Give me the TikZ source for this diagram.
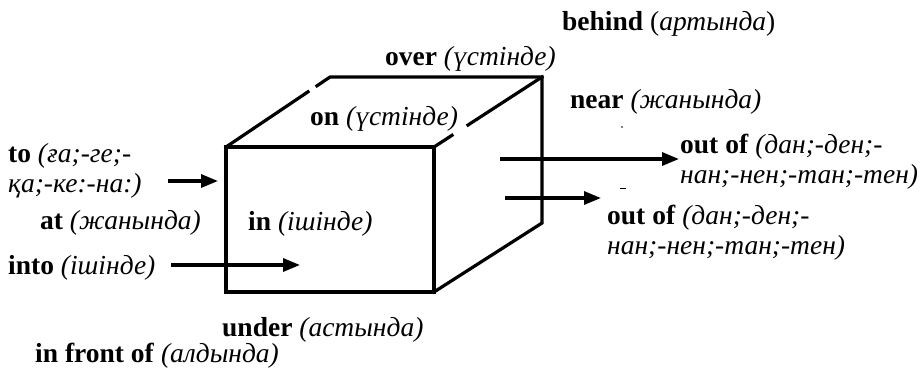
\documentclass[tikz,border=0pt]{standalone}
\usepackage{fontspec}
\setmainfont{Liberation Serif}
\usetikzlibrary{arrows.meta}
\begin{document}
\begin{tikzpicture}[x=1pt,y=-1pt,
  edge/.style={line width=3.2pt,line join=miter,line cap=rect},
  arr/.style={line width=3.2pt,-{Triangle[length=17pt,width=13pt]}},
  lbl/.style={inner sep=0pt,anchor=west,font=\fontsize{27.5}{30}\selectfont,align=left}]
\useasboundingbox (0,0) rectangle (924,368);
% cube
\draw[edge] (226,147) rectangle (434,292);
\draw[edge] (226,147) -- (308,91.8);
\draw[edge] (317,85.8) -- (330,77) -- (542,77) -- (542,223) -- (434,292);
\draw[edge] (434,147) -- (452,135.3);
\draw[edge] (468,125) -- (542,77);
% labels
\node[lbl] (behind) at (562,24) {\textbf{behind} (\textit{артында})};
\node[lbl] (over) at (385,59) {\textbf{over} \textit{(үстінде)}};
\node[lbl] (on) at (310,119) {\textbf{on} \textit{(үстінде)}};
\node[lbl] (near) at (570,102) {\textbf{near} \textit{(жанында)}};
\node[lbl] (out1) at (680,162) {\textbf{out of} \textit{(дан;-ден;-}\\\textit{нан;-нен;-тан;-тен)}};
\node[lbl] (out2) at (607,233) {\textbf{out of} \textit{(дан;-ден;-}\\\textit{нан;-нен;-тан;-тен)}};
\node[lbl] (to) at (8,171) {\textbf{to} \textit{(ға;-ге;-}\\\textit{қа;-ке:-на:)}};
\node[lbl] (at) at (40,223) {\textbf{at} \textit{(жанында)}};
\node[lbl] (in) at (248,224) {\textbf{in} \textit{(ішінде)}};
\node[lbl] (into) at (8,268) {\textbf{into} \textit{(ішінде)}};
\node[lbl] (under) at (222,330) {\textbf{under} \textit{(астында)}};
\node[lbl] (front) at (35,356) {\textbf{in front of} \textit{(алдында)}};
% arrows
\coordinate (toS) at (168,181);
\coordinate (toE) at (218,181);
\coordinate (intoS) at (171,265);
\coordinate (intoE) at (300,265);
\coordinate (o1S) at (500,159);
\coordinate (o1E) at (679,159);
\coordinate (o2S) at (505,198);
\coordinate (o2E) at (601,198);
\draw[arr] (toS) -- (toE);
\draw[arr] (intoS) -- (intoE);
\draw[arr] (o1S) -- (o1E);
\draw[arr] (o2S) -- (o2E);
% stray marks
\fill (622,127) circle (0.9);
\draw[line width=0.8pt] (620,188) -- (626,188);
\end{tikzpicture}
\end{document}
